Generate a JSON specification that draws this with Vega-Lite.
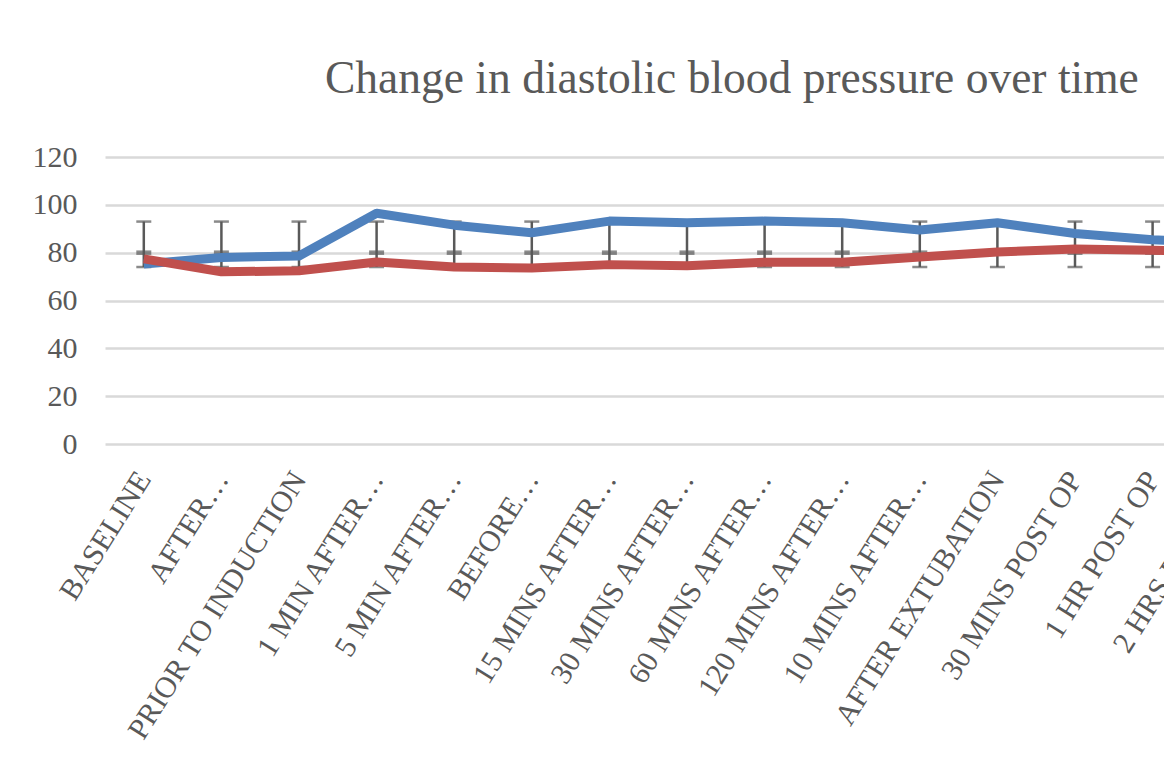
{
  "$schema": "https://vega.github.io/schema/vega-lite/v6.json",
  "autosize": {"type": "none"},
  "padding": {"left": 105, "top": 157, "right": 0, "bottom": 327},
  "width": 1059,
  "height": 287,
  "background": "white",
  "title": {
    "text": "Change in diastolic blood pressure over time",
    "font": "Liberation Serif",
    "fontSize": 45.5,
    "fontWeight": "normal",
    "color": "#595959",
    "anchor": "start",
    "frame": "group",
    "dx": 220,
    "offset": 4,
    "baseline": "alphabetic"
  },
  "data": {
    "values": [
      {"time": "BASELINE", "group1": 75.3, "group2": 77.4, "low": 74, "mid": 80, "high": 93},
      {"time": "AFTER…", "group1": 78.0, "group2": 72.0, "low": 74, "mid": 80, "high": 93},
      {"time": "PRIOR TO INDUCTION", "group1": 78.6, "group2": 72.4, "low": 74, "mid": 80, "high": 93},
      {"time": "1 MIN AFTER…", "group1": 96.5, "group2": 76.1, "low": 74, "mid": 80, "high": 93},
      {"time": "5 MIN AFTER…", "group1": 91.5, "group2": 74.0, "low": 74, "mid": 80, "high": 93},
      {"time": "BEFORE…", "group1": 88.3, "group2": 73.6, "low": 74, "mid": 80, "high": 93},
      {"time": "15 MINS AFTER…", "group1": 93.2, "group2": 75.0, "low": 74, "mid": 80, "high": 93},
      {"time": "30 MINS AFTER…", "group1": 92.5, "group2": 74.5, "low": 74, "mid": 80, "high": 93},
      {"time": "60 MINS AFTER…", "group1": 93.2, "group2": 76.0, "low": 74, "mid": 80, "high": 93},
      {"time": "120 MINS AFTER…", "group1": 92.5, "group2": 76.0, "low": 74, "mid": 80, "high": 93},
      {"time": "10 MINS AFTER…", "group1": 89.5, "group2": 78.2, "low": 74, "mid": 80, "high": 93},
      {"time": "AFTER EXTUBATION", "group1": 92.5, "group2": 80.3, "low": 74, "mid": 80, "high": 93},
      {"time": "30 MINS POST OP", "group1": 88.0, "group2": 81.5, "low": 74, "mid": 80, "high": 93},
      {"time": "1 HR POST OP", "group1": 85.4, "group2": 81.0, "low": 74, "mid": 80, "high": 93},
      {"time": "2 HRS POST OP", "group1": 84.0, "group2": 80.5, "low": 74, "mid": 80, "high": 93}
    ]
  },
  "encoding": {
    "x": {
      "field": "time",
      "type": "nominal",
      "sort": null,
      "scale": {"type": "point", "range": [0, 1164], "padding": 0.5},
      "axis": {
        "title": null,
        "labelAngle": -58,
        "labelAlign": "right",
        "labelBaseline": "middle",
        "labelPadding": 30,
        "labelFont": "Liberation Serif",
        "labelFontSize": 30,
        "labelColor": "#595959",
        "labelLimit": 0,
        "labelOverlap": false,
        "ticks": false,
        "domain": false,
        "grid": false
      }
    }
  },
  "layer": [
    {
      "mark": {"type": "rule", "color": "#595959", "strokeWidth": 2.5},
      "encoding": {
        "y": {
          "field": "low",
          "type": "quantitative",
          "scale": {"domain": [0, 120]},
          "axis": {
            "title": null,
            "values": [0, 20, 40, 60, 80, 100, 120],
            "labelFont": "Liberation Serif",
            "labelFontSize": 30,
            "labelColor": "#595959",
            "labelPadding": 28,
            "ticks": false,
            "domain": false,
            "grid": true,
            "gridColor": "#d9d9d9",
            "gridWidth": 2.5
          }
        },
        "y2": {"field": "high"}
      }
    },
    {
      "mark": {"type": "tick", "color": "#595959", "size": 15, "thickness": 2.5},
      "encoding": {"y": {"field": "low", "type": "quantitative"}}
    },
    {
      "mark": {"type": "tick", "color": "#595959", "size": 15, "thickness": 2.5},
      "encoding": {"y": {"field": "high", "type": "quantitative"}}
    },
    {
      "mark": {"type": "tick", "color": "#595959", "size": 15, "thickness": 4.5},
      "encoding": {"y": {"field": "mid", "type": "quantitative"}}
    },
    {
      "mark": {"type": "line", "color": "#4F81BD", "strokeWidth": 9, "strokeJoin": "round"},
      "encoding": {"y": {"field": "group1", "type": "quantitative"}}
    },
    {
      "mark": {"type": "line", "color": "#C0504D", "strokeWidth": 9, "strokeJoin": "round"},
      "encoding": {"y": {"field": "group2", "type": "quantitative"}}
    }
  ],
  "config": {"view": {"stroke": null}}
}
